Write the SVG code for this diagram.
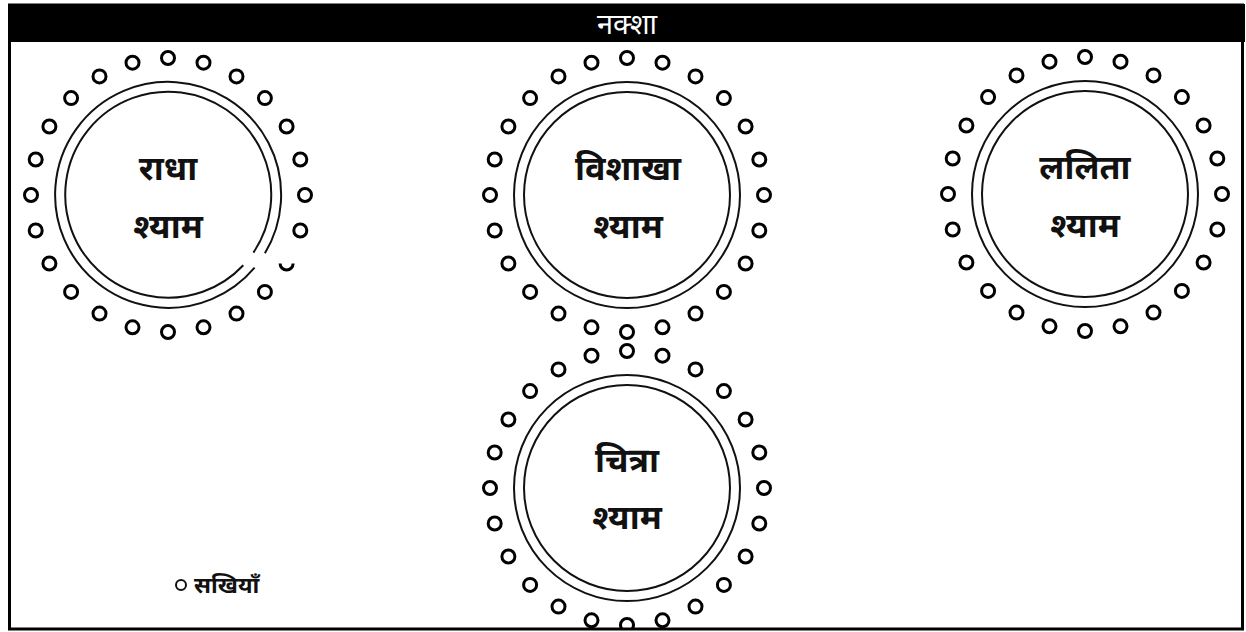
<svg xmlns="http://www.w3.org/2000/svg" xmlns:xlink="http://www.w3.org/1999/xlink" width="1246" height="632" viewBox="0 0 1246 632">
<style>
.ring{fill:none;stroke:#111;stroke-width:2}
.dot{fill:none;stroke:#000;stroke-width:3}
.lbl{font-family:"Noto Sans Devanagari","Lohit Devanagari","Noto Sans",sans-serif;font-weight:bold;font-size:34px;fill:#111;text-anchor:middle}
.title{font-family:"Noto Sans Devanagari","Lohit Devanagari","Noto Sans",sans-serif;font-size:29px;fill:#fff;text-anchor:middle}
.leg{font-family:"Noto Sans Devanagari","Lohit Devanagari","Noto Sans",sans-serif;font-weight:bold;font-size:23px;fill:#111}
</style>
<defs>
<clipPath id="inside"><rect x="11" y="42" width="1230" height="586"/></clipPath>
<g id="dots23">
<circle class="dot" r="6.5" cx="0" cy="-137"/>
<circle class="dot" r="6.5" cx="35.5" cy="-132.3"/>
<circle class="dot" r="6.5" cx="68.5" cy="-118.6"/>
<circle class="dot" r="6.5" cx="96.9" cy="-96.9"/>
<circle class="dot" r="6.5" cx="118.6" cy="-68.5"/>
<circle class="dot" r="6.5" cx="132.3" cy="-35.5"/>
<circle class="dot" r="6.5" cx="137" cy="0"/>
<circle class="dot" r="6.5" cx="132.3" cy="35.5"/>
<circle class="dot" r="6.5" cx="96.9" cy="96.9"/>
<circle class="dot" r="6.5" cx="68.5" cy="118.6"/>
<circle class="dot" r="6.5" cx="35.5" cy="132.3"/>
<circle class="dot" r="6.5" cx="0" cy="137"/>
<circle class="dot" r="6.5" cx="-35.5" cy="132.3"/>
<circle class="dot" r="6.5" cx="-68.5" cy="118.6"/>
<circle class="dot" r="6.5" cx="-96.9" cy="96.9"/>
<circle class="dot" r="6.5" cx="-118.6" cy="68.5"/>
<circle class="dot" r="6.5" cx="-132.3" cy="35.5"/>
<circle class="dot" r="6.5" cx="-137" cy="0"/>
<circle class="dot" r="6.5" cx="-132.3" cy="-35.5"/>
<circle class="dot" r="6.5" cx="-118.6" cy="-68.5"/>
<circle class="dot" r="6.5" cx="-96.9" cy="-96.9"/>
<circle class="dot" r="6.5" cx="-68.5" cy="-118.6"/>
<circle class="dot" r="6.5" cx="-35.5" cy="-132.3"/>
</g>
<g id="fullcircle">
<use xlink:href="#dots23"/>
<circle class="dot" r="6.5" cx="118.6" cy="68.5"/>
<circle class="ring" r="113"/>
<circle class="ring" r="103"/>
</g>
</defs>
<rect x="0" y="0" width="1246" height="632" fill="#fff"/>
<g clip-path="url(#inside)">
<g id="radha">
<use xlink:href="#dots23" transform="translate(168,195)"/>
<path class="dot" d="M280.1 263.5 A6.5 6.5 0 0 0 293.1 263.5"/>
<path class="ring" d="M254.6 267.6 A113 113 0 1 1 264.9 253.2"/>
<path class="ring" d="M243.3 265.2 A103 103 0 1 1 253.4 252.6"/>
<text class="lbl" x="168" y="180">राधा</text>
<text class="lbl" x="168" y="238">श्याम</text>
</g>
<g id="vishakha">
<use xlink:href="#fullcircle" transform="translate(627,195)"/>
<text class="lbl" x="628" y="180">विशाखा</text>
<text class="lbl" x="628" y="238">श्याम</text>
</g>
<g id="lalita">
<use xlink:href="#fullcircle" transform="translate(1085,194)"/>
<text class="lbl" x="1085" y="179">ललिता</text>
<text class="lbl" x="1085" y="237">श्याम</text>
</g>
<g id="chitra">
<use xlink:href="#fullcircle" transform="translate(627,488)"/>
<text class="lbl" x="627" y="472">चित्रा</text>
<text class="lbl" x="627" y="529">श्याम</text>
</g>
<g id="legend">
<circle cx="181" cy="585" r="5" fill="none" stroke="#111" stroke-width="2"/>
<text class="leg" x="194" y="593">सखियाँ</text>
</g>
</g>
<g id="frame">
<rect x="9.5" y="5" width="1233" height="624" fill="none" stroke="#000" stroke-width="3"/>
<rect x="8" y="4" width="1237" height="38" fill="#000"/>
<text class="title" x="627" y="34">नक्शा</text>
</g>
</svg>
